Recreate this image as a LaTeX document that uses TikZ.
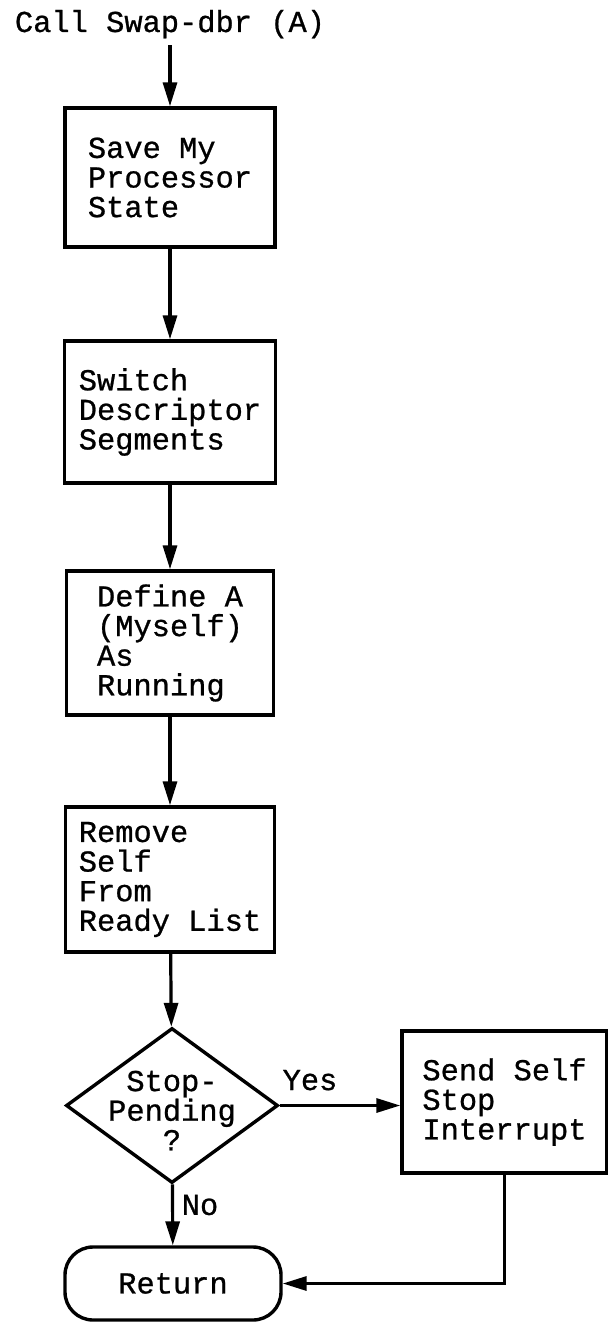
\documentclass[tikz,border=0pt]{standalone}
\usepackage{fontspec}
\setmainfont{Liberation Mono}[FakeBold=0.8]
\usetikzlibrary{shapes,arrows.meta}

\begin{document}
\begin{tikzpicture} [x=0.5pt, y=-0.5pt,
                     font=\fontsize{15.2}{14.8}\selectfont,
                     box/.style= {draw, line width=1.7pt,
                                  align=left, inner sep=0},
                     flow/.style= {line width=1.6pt,
                                   -{Triangle[length=12pt,width=7pt]}}]

\useasboundingbox (0,0) rectangle (608,1322);

\node[anchor=base] (call) at (170,32) {Call Swap-dbr (A)};

\node[box, minimum width=105pt, minimum height=69.5pt] (save) at (170,177.5) {Save My\\Processor\\State};
\node[box, minimum width=105.5pt, minimum height=71pt] (switch) at (170,412) {Switch\\Descriptor\\Segments};
\node[box, minimum width=103.5pt, minimum height=72pt] (define) at (170,643) {Define A\\(Myself)\\As\\Running};
\node[box, minimum width=104.5pt, minimum height=72.5pt] (remove) at (170,879.5) {Remove\\Self\\From\\Ready List};

\node[box, diamond, minimum width=106pt, minimum height=77.5pt,
      label={[align=center, yshift=-2.5pt]center:{Stop-\\Pending\\?}}] (stop) at (172,1105.5) {};
\node[box, minimum width=102.5pt, minimum height=71pt] (send) at (504.5,1102) {Send Self\\Stop\\Interrupt};

\node[box, rounded corners=14pt, minimum width=108pt, minimum height=36.5pt] (ret) at (173,1283.5) {Return};

\node[anchor=base] (yes) at (310,1090) {Yes};
\node (no) at (200,1205) {No};


\draw[flow] (call) -- (save);
\draw[flow] (save) -- (switch);
\draw[flow] (switch) -- (define);
\draw[flow] (define) -- (remove);
\draw[flow] (remove) -- (stop);

\draw[flow] (stop.east) -- (stop.east -| send.west);
\draw[flow] (stop) -- (ret);
\draw[flow] (send.south) |- (ret.east);

\end{tikzpicture}
\end{document}
